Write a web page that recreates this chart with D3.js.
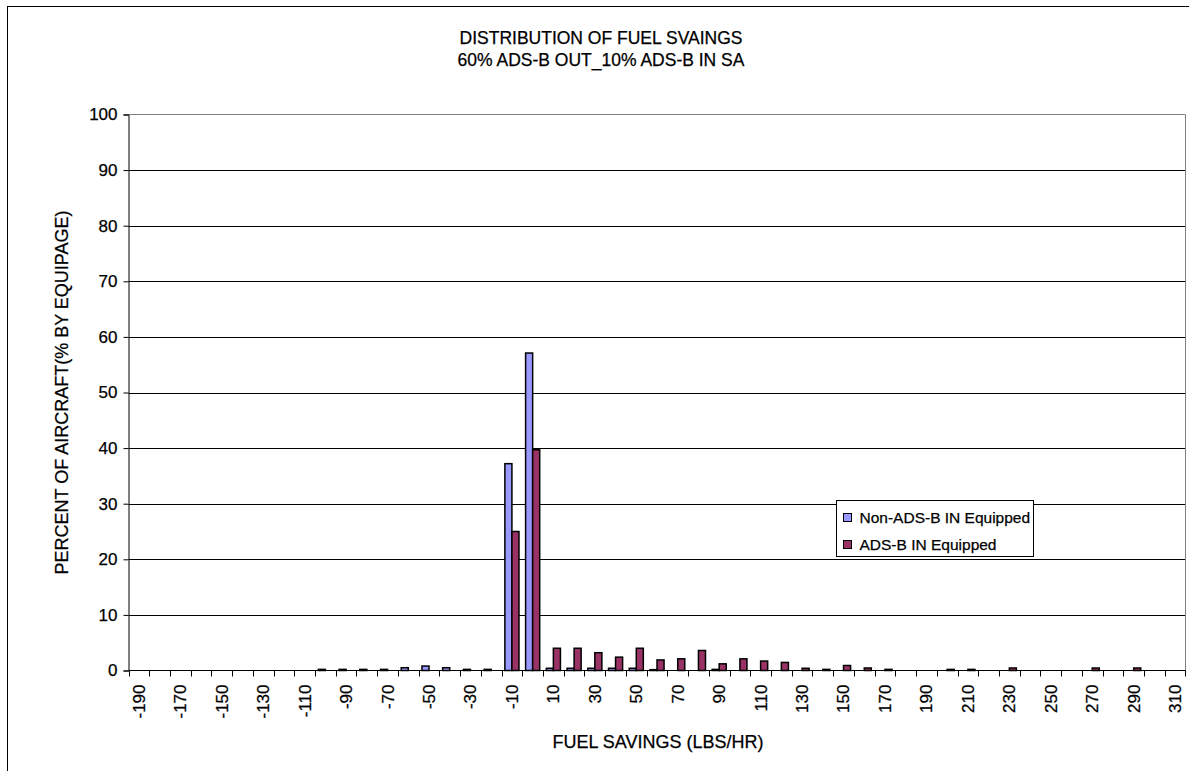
<!DOCTYPE html>
<html>
<head>
<meta charset="utf-8">
<script src="https://cdn.jsdelivr.net/npm/d3@7"></script>
<style>
  body { margin: 0; background: #fff; }
  svg { display: block; font-family: "Liberation Sans", Arial, sans-serif; }
  text { fill: #000; stroke: #000; stroke-width: 0.25px; }
</style>
</head>
<body>
<svg id="chart" width="1189" height="771"></svg>
<script>
// Fuel savings bins (lbs/hr), one bar pair per bin
const categories = [-190, -180, -170, -160, -150, -140, -130, -120, -110, -100,
  -90, -80, -70, -60, -50, -40, -30, -20, -10, 0,
  10, 20, 30, 40, 50, 60, 70, 80, 90, 100,
  110, 120, 130, 140, 150, 160, 170, 180, 190, 200,
  210, 220, 230, 240, 250, 260, 270, 280, 290, 300, 310];

// Labels shown under the axis (every other bin)
const tickLabels = [-190, -170, -150, -130, -110, -90, -70, -50, -30, -10,
  10, 30, 50, 70, 90, 110, 130, 150, 170, 190, 210, 230, 250, 270, 290, 310];

const seriesNames = ["Non-ADS-B IN Equipped", "ADS-B IN Equipped"];
const seriesColors = ["#9999FF", "#993366"];

// percent of aircraft
const nonEquipped = [0, 0, 0, 0, 0, 0, 0, 0, 0, 0.2,
  0.2, 0.2, 0.2, 0.5, 0.8, 0.5, 0.2, 0.2, 37.2, 57.1,
  0.4, 0.4, 0.4, 0.4, 0.4, 0.15, 0, 0, 0.2, 0,
  0, 0, 0, 0, 0, 0, 0, 0, 0, 0,
  0, 0, 0, 0, 0, 0, 0, 0, 0, 0, 0];

const equipped = [0, 0, 0, 0, 0, 0, 0, 0, 0, 0,
  0, 0, 0, 0, 0, 0, 0, 0, 25.0, 39.7,
  4.0, 4.0, 3.2, 2.4, 4.0, 1.9, 2.1, 3.6, 1.2, 2.1,
  1.7, 1.45, 0.4, 0.2, 0.9, 0.45, 0.2, 0, 0, 0.2,
  0.2, 0, 0.45, 0, 0, 0, 0.45, 0, 0.45, 0, 0];

const yTicks = [0, 10, 20, 30, 40, 50, 60, 70, 80, 90, 100];

// plot area
var plot = { left: 128.5, right: 1185.5, top: 114.5, bottom: 670.5 };

var svg = d3.select("#chart");

// outer chart frame
svg.append("rect")
  .attr("x", 7.5).attr("y", 6.5)
  .attr("width", 1200).attr("height", 800)
  .attr("fill", "#fff").attr("stroke", "#000").attr("stroke-width", 1);

var x0 = d3.scaleBand()
  .domain(categories)
  .range([plot.left, plot.right])
  .padding(0);

var x1 = d3.scaleBand()
  .domain(seriesNames)
  .range([0, x0.bandwidth()])
  .paddingInner(0)
  .paddingOuter(0.47);

var y = d3.scaleLinear()
  .domain([0, 100])
  .range([plot.bottom, plot.top]);

// gridlines
svg.append("g")
  .selectAll("line")
  .data(yTicks.filter(d => d > 0 && d < 100))
  .enter()
  .append("line")
  .attr("x1", plot.left).attr("x2", plot.right)
  .attr("y1", d => Math.round(y(d)) + 0.5).attr("y2", d => Math.round(y(d)) + 0.5)
  .attr("stroke", "#000").attr("stroke-width", 1);

// plot border (top / right)
svg.append("path")
  .attr("d", `M${plot.left},${plot.top}H${plot.right}V${plot.bottom}`)
  .attr("fill", "none").attr("stroke", "#808080").attr("stroke-width", 1);

// bars
var seriesData = [nonEquipped, equipped];
var barGroup = svg.append("g");
seriesNames.forEach(function(name, s) {
  barGroup.selectAll(".bar" + s)
    .data(categories.map((c, i) => ({ cat: c, value: seriesData[s][i] })).filter(d => d.value > 0))
    .enter()
    .append("rect")
    .attr("class", "bar" + s)
    .attr("x", d => x0(d.cat) + x1(name))
    .attr("y", d => y(d.value))
    .attr("width", x1.bandwidth())
    .attr("height", d => plot.bottom - y(d.value))
    .attr("fill", seriesColors[s])
    .attr("stroke", "#000")
    .attr("stroke-width", 1.5);
});

// y axis
var yAxis = d3.axisLeft(y).tickValues(yTicks).tickSize(5).tickPadding(6);
var gy = svg.append("g")
  .attr("transform", `translate(${plot.left},0)`)
  .call(yAxis);
gy.select(".domain").attr("stroke", "#000");
gy.selectAll("text")
  .attr("font-size", "17px")
  .attr("font-family", "Liberation Sans, Arial, sans-serif");

// x axis: ticks sit between bins
svg.append("line")
  .attr("x1", plot.left).attr("x2", plot.right)
  .attr("y1", plot.bottom).attr("y2", plot.bottom)
  .attr("stroke", "#000");

svg.append("g")
  .selectAll("line")
  .data(categories.concat(["end"]))
  .enter()
  .append("line")
  .attr("x1", d => d === "end" ? plot.right : Math.round(x0(d)) + 0.5)
  .attr("x2", d => d === "end" ? plot.right : Math.round(x0(d)) + 0.5)
  .attr("y1", plot.bottom).attr("y2", plot.bottom + 6)
  .attr("stroke", "#000");

svg.append("g")
  .selectAll("text")
  .data(tickLabels)
  .enter()
  .append("text")
  .attr("transform", d => `translate(${x0(d) + x0.bandwidth() / 2},${plot.bottom + 14}) rotate(-90)`)
  .attr("text-anchor", "end")
  .attr("dy", "0.35em")
  .attr("font-size", "17px")
  .text(d => d);

// titles
var title = svg.append("text")
  .attr("x", 601)
  .attr("text-anchor", "middle")
  .attr("font-size", "17.5px");
title.append("tspan").attr("x", 601).attr("y", 43.5).text("DISTRIBUTION OF FUEL SVAINGS");
title.append("tspan").attr("x", 601).attr("y", 66).text("60% ADS-B OUT_10% ADS-B IN SA");

svg.append("text")
  .attr("x", 658).attr("y", 748)
  .attr("text-anchor", "middle")
  .attr("font-size", "18px")
  .text("FUEL SAVINGS (LBS/HR)");

svg.append("text")
  .attr("transform", `translate(68,${(plot.top + plot.bottom) / 2}) rotate(-90)`)
  .attr("text-anchor", "middle")
  .attr("font-size", "18px")
  .text("PERCENT OF AIRCRAFT(% BY EQUIPAGE)");

// legend
var legend = svg.append("g").attr("transform", "translate(836.5,500.5)");
legend.append("rect")
  .attr("width", 197).attr("height", 56)
  .attr("fill", "#fff").attr("stroke", "#000");
seriesNames.forEach(function(name, s) {
  var row = legend.append("g").attr("transform", `translate(7,${17 + s * 27})`);
  row.append("rect")
    .attr("x", 0).attr("y", -4)
    .attr("width", 8).attr("height", 8)
    .attr("fill", seriesColors[s]).attr("stroke", "#000");
  row.append("text")
    .attr("x", 16).attr("dy", "0.35em")
    .attr("font-size", "15.5px")
    .text(name);
});
</script>
</body>
</html>
